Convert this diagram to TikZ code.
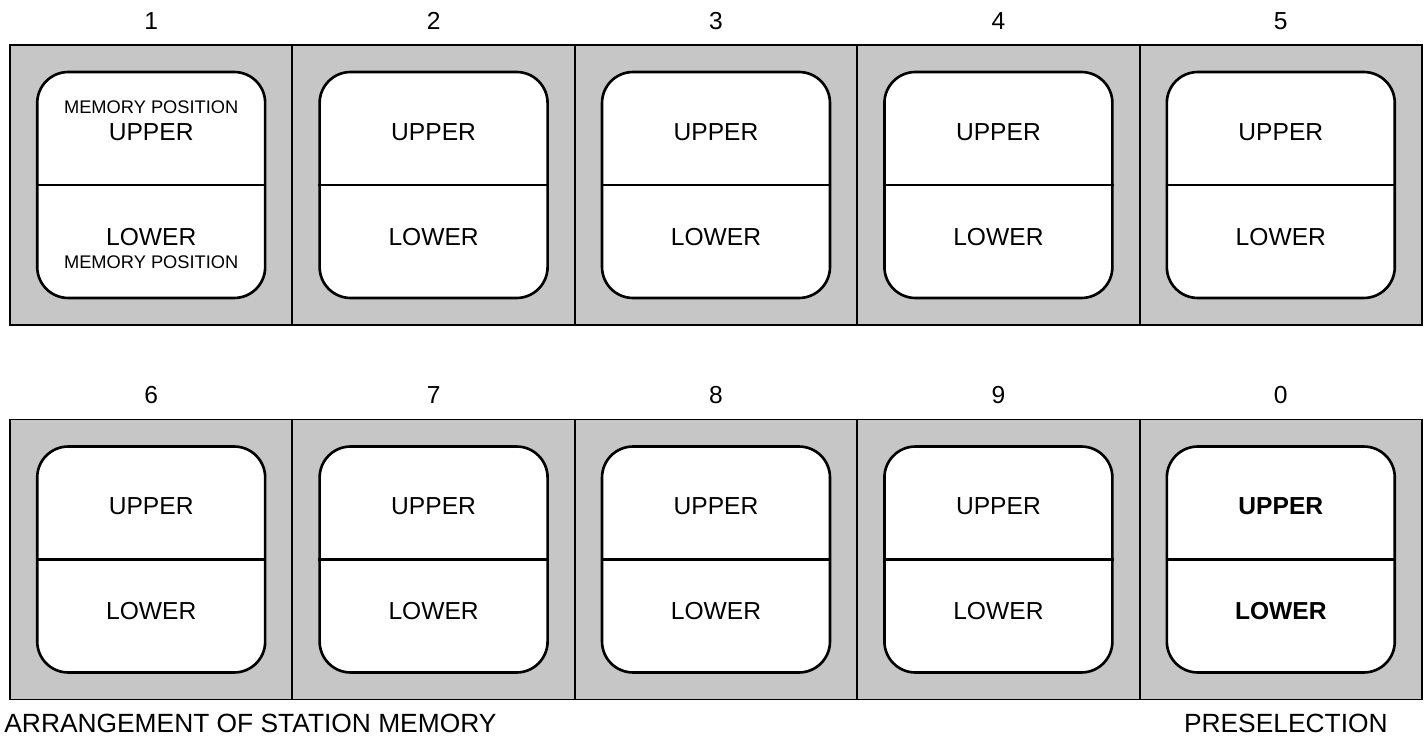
\documentclass[tikz,border=0pt]{standalone}
\usepackage{fontspec}
\setmainfont{Liberation Sans}
\usetikzlibrary{positioning}
\definecolor{PanelGray}{HTML}{C6C6C6}
\definecolor{KeyWhite}{HTML}{FFFFFF}

\begin{document}
\begin{tikzpicture}[x=0.02cm,y=-0.02cm,
  panel/.style={draw,line width=1.1pt,fill=PanelGray,
                minimum width=5.648cm,minimum height=5.6cm,inner sep=0pt},
  keybox/.style={draw,line width=1.5pt,fill=KeyWhite,rounded corners=0.62cm,
                 minimum width=4.56cm,minimum height=4.52cm,inner sep=0pt},
  keytext/.style={font=\fontsize{14}{16}\selectfont#1},
  keytext/.default=\mdseries,
  smalltext/.style={font=\fontsize{10.4}{12}\selectfont},
  numlbl/.style={font=\fontsize{14}{16}\selectfont},
  captext/.style={font=\fontsize{15}{18}\selectfont,inner sep=0pt}]
\useasboundingbox (0,0) rectangle (1426,746);

% ten station keys, two rows of five
\foreach \num/\wt [count=\i] in {1/\mdseries,2/\mdseries,3/\mdseries,4/\mdseries,5/\mdseries,
                                 6/\mdseries,7/\mdseries,8/\mdseries,9/\mdseries,0/\bfseries} {
  \pgfmathsetmacro\cx{151.2+282.4*mod(\i-1,5)}
  \pgfmathsetmacro\cy{\i<6 ? 185 : 559.5}
  \node[panel] (cell\num) at (\cx,\cy) {};
  \node[keybox] (key\num) at (cell\num) {};
  \draw[line width=1.2pt] (key\num.west) -- (key\num.east);
  \node[numlbl,above=0.17cm of cell\num] (num\num) {\num};
  \node[keytext=\wt] (up\num) at ([yshift=1.06cm]key\num.center) {UPPER};
  \node[keytext=\wt] (low\num) at ([yshift=-1.04cm]key\num.center) {LOWER};
}

% extra legend on key 1
\node[smalltext] (memup) at ([yshift=1.56cm]key1.center) {MEMORY POSITION};
\node[smalltext] (memlow) at ([yshift=-1.54cm]key1.center) {MEMORY POSITION};

\node[captext,below right=0.26cm and -0.1cm of cell6.south west] (arrcap) {ARRANGEMENT OF STATION MEMORY};
\node[captext,below left=0.26cm and 0.7cm of cell0.south east] (precap) {PRESELECTION};
\end{tikzpicture}
\end{document}
